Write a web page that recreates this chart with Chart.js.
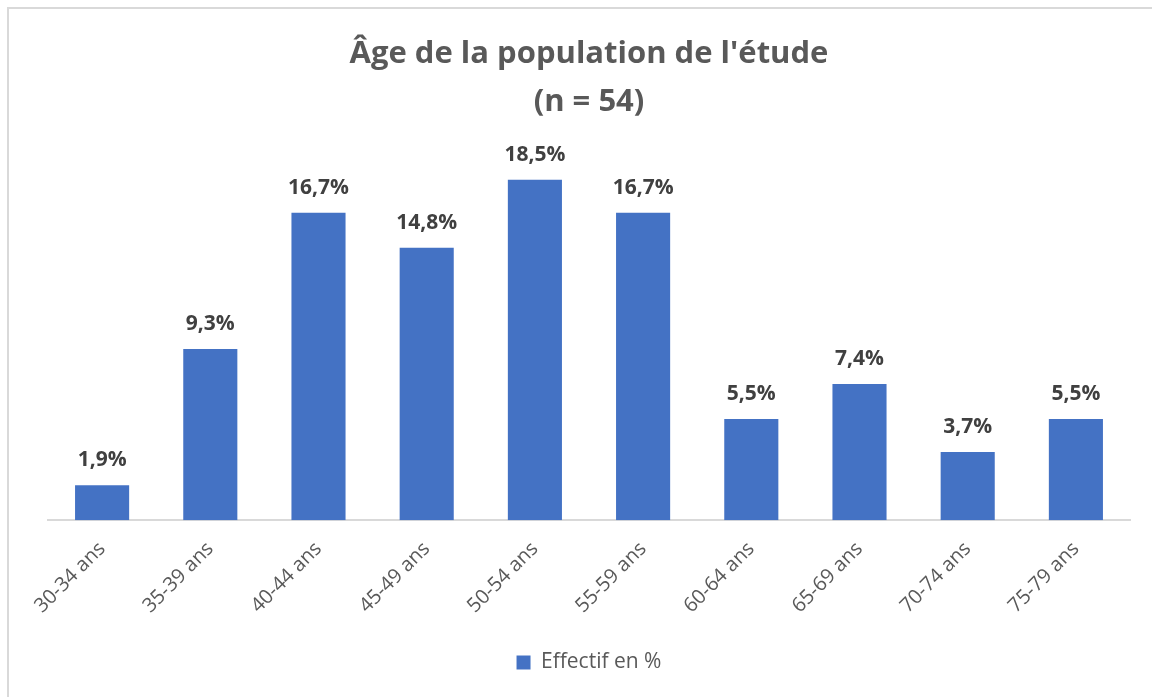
<!DOCTYPE html>
<html>
<head>
<meta charset="utf-8">
<script src="https://cdn.jsdelivr.net/npm/chart.js@4/dist/chart.umd.min.js"></script>
<style>
  html, body { margin: 0; padding: 0; background: #ffffff; }
  body { width: 1152px; height: 697px; position: relative; overflow: hidden; }
  #frame { position: absolute; left: 7px; top: 7px; width: 1200px; height: 760px; border: 2px solid #d9d9d9; box-sizing: border-box; }
  #wrap { position: absolute; left: 0; top: 0; width: 1152px; height: 697px; }
</style>
</head>
<body>
<div id="frame"></div>
<div id="wrap"><canvas id="c" width="1152" height="697"></canvas></div>
<script>
const categories = ["30-34 ans", "35-39 ans", "40-44 ans", "45-49 ans", "50-54 ans", "55-59 ans", "60-64 ans", "65-69 ans", "70-74 ans", "75-79 ans"];
const effectif = [1.9, 9.3, 16.7, 14.8, 18.5, 16.7, 5.5, 7.4, 3.7, 5.5];
const seriesName = "Effectif en %";
const titleLines = ["Âge de la population de l'étude", "(n = 54)"];

const FONT = "'Open Sans', 'Noto Sans', sans-serif";

const dataLabels = {
  id: 'dataLabels',
  afterDatasetsDraw(chart) {
    const ctx = chart.ctx;
    const meta = chart.getDatasetMeta(0);
    ctx.save();
    ctx.font = "bold 21px " + FONT;
    ctx.fillStyle = "#404040";
    ctx.textAlign = "center";
    ctx.textBaseline = "middle";
    meta.data.forEach((bar, i) => {
      const v = chart.data.datasets[0].data[i];
      ctx.fillText(v.toFixed(1).replace('.', ',') + '%', bar.x, bar.y - 25);
    });
    ctx.restore();
  }
};

new Chart(document.getElementById('c'), {
  type: 'bar',
  data: {
    labels: categories,
    datasets: [{
      label: seriesName,
      data: effectif,
      backgroundColor: '#4472C4',
      borderWidth: 0,
      barPercentage: 0.5,
      categoryPercentage: 1.0
    }]
  },
  options: {
    responsive: false,
    animation: false,
    devicePixelRatio: 1,
    layout: { padding: { left: 48, right: 22, top: 20, bottom: 14 } },
    plugins: {
      title: {
        display: true,
        text: titleLines,
        color: '#595959',
        font: { family: FONT, size: 31, weight: 'bold', lineHeight: 1.55 },
        padding: { top: 10, bottom: 26 }
      },
      legend: {
        display: true,
        position: 'bottom',
        labels: {
          color: '#595959',
          font: { family: FONT, size: 21 },
          boxWidth: 14,
          boxHeight: 14,
          padding: 10
        }
      },
      tooltip: { enabled: false }
    },
    scales: {
      x: {
        grid: { display: false },
        border: { display: true, color: '#d9d9d9', width: 2 },
        afterFit(scale) { scale.height += 15; },
        ticks: {
          color: '#595959',
          font: { family: FONT, size: 20 },
          minRotation: 45,
          maxRotation: 45,
          padding: 9
        }
      },
      y: {
        display: false,
        min: 0,
        max: 20
      }
    }
  },
  plugins: [dataLabels]
});
</script>
</body>
</html>
